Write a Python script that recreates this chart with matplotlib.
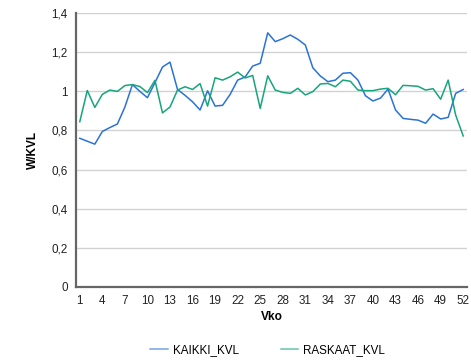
import numpy as np
import matplotlib.pyplot as plt
from matplotlib.ticker import FuncFormatter

plt.rcParams['font.family'] = ['Liberation Sans', 'DejaVu Sans']

weeks = np.arange(1, 53)
kaikki_kvl = [0.76, 0.745, 0.73, 0.795, 0.815, 0.833, 0.92, 1.035, 1.0, 0.968,
              1.045, 1.125, 1.15, 1.01, 0.98, 0.947, 0.905, 1.003, 0.925, 0.929,
              0.985, 1.058, 1.074, 1.13, 1.144, 1.30, 1.255, 1.27, 1.289, 1.267,
              1.238, 1.121, 1.079, 1.05, 1.058, 1.093, 1.096, 1.058, 0.978, 0.951,
              0.966, 1.012, 0.905, 0.862, 0.857, 0.853, 0.837, 0.884, 0.859, 0.867,
              0.99, 1.01]
raskaat_kvl = [0.845, 1.005, 0.918, 0.985, 1.007, 1.0, 1.03, 1.035, 1.025, 0.994,
               1.057, 0.89, 0.92, 1.007, 1.024, 1.01, 1.04, 0.925, 1.07, 1.058,
               1.075, 1.099, 1.069, 1.082, 0.913, 1.08, 1.007, 0.995, 0.99, 1.016,
               0.982, 0.999, 1.038, 1.041, 1.024, 1.058, 1.052, 1.007, 1.004, 1.004,
               1.012, 1.016, 0.983, 1.031, 1.029, 1.026, 1.007, 1.014, 0.96, 1.058,
               0.879, 0.772]
xtick_weeks = list(range(1, 53, 3))

fig = plt.figure(figsize=(4.71, 3.6), dpi=100)
ax = fig.add_axes([0.1614, 0.2036, 0.83, 0.7594])

ax.plot(weeks, kaikki_kvl, color='#2a73d6', lw=1.1, label='KAIKKI_KVL')
ax.plot(weeks, raskaat_kvl, color='#17a57c', lw=1.1, label='RASKAAT_KVL')

ax.set_xlim(0.5, 52.5)
ax.set_ylim(0, 1.4)
ax.set_yticks(np.arange(0, 1.41, 0.2))
ax.yaxis.set_major_formatter(FuncFormatter(
    lambda v, p: '0' if abs(v) < 1e-9 else ('1' if abs(v - 1) < 1e-9 else f'{v:.1f}'.replace('.', ','))))
ax.set_xticks(xtick_weeks)
ax.tick_params(axis='both', length=0, labelsize=8.4, colors='#222222', pad=6)
ax.grid(axis='y', color='#d2d2d2', lw=1)
ax.set_axisbelow(True)

for s in ['top', 'right']:
    ax.spines[s].set_visible(False)
for s in ['left', 'bottom']:
    ax.spines[s].set_color('#666666')
    ax.spines[s].set_linewidth(1.6)

ax.set_xlabel('Vko', fontsize=8.6, fontweight='bold', labelpad=3)
ax.set_ylabel('W/KVL', fontsize=8.6, fontweight='bold', labelpad=9)

leg = fig.legend(loc='center', bbox_to_anchor=(0.568, 0.028), ncol=2,
                 frameon=False, fontsize=8.4, handlelength=1.5, columnspacing=3.6,
                 handletextpad=0.4)
for line in leg.get_lines():
    line.set_alpha(0.65)

fig.savefig('out.png', dpi=100)
